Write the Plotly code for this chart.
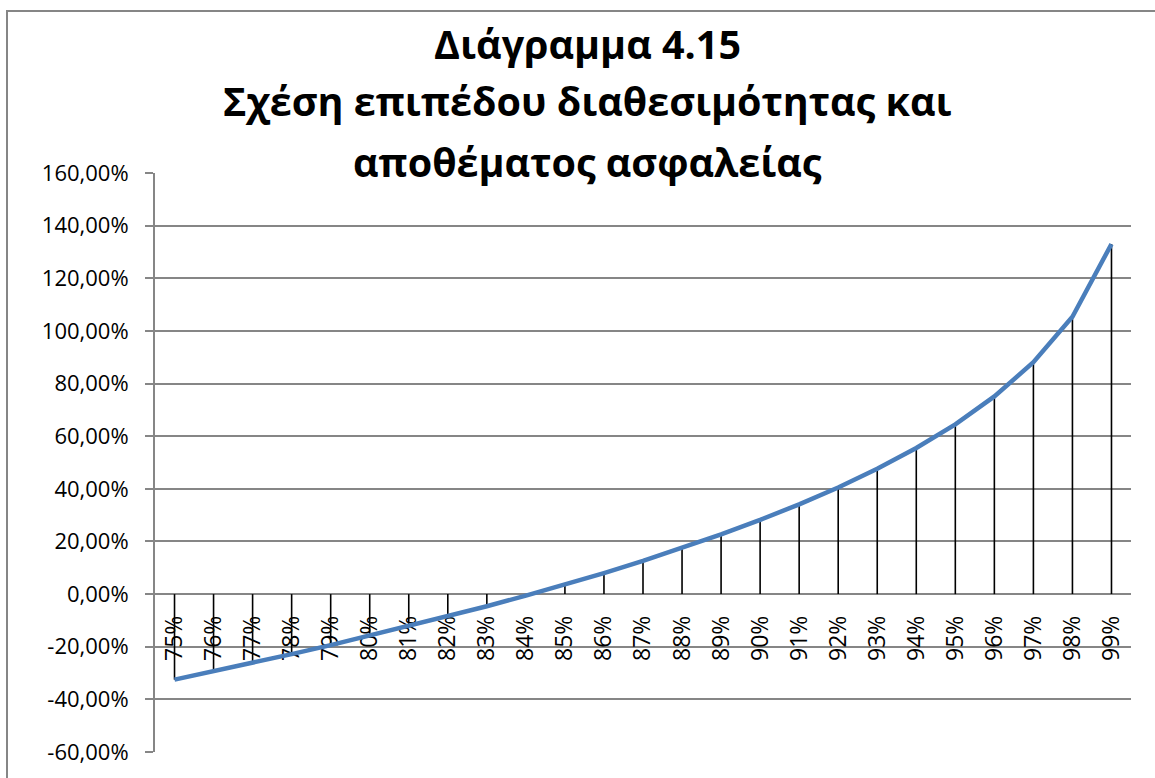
import plotly.graph_objects as go

# Service level (category axis)
service_levels = ["75%", "76%", "77%", "78%", "79%", "80%", "81%", "82%", "83%",
                  "84%", "85%", "86%", "87%", "88%", "89%", "90%", "91%", "92%",
                  "93%", "94%", "95%", "96%", "97%", "98%", "99%"]

# Change in safety stock, in percent
safety_stock_pct = [-32.5, -29.4, -26.1, -22.8, -19.4, -15.8, -12.2, -8.5, -4.6,
                    -0.6, 3.6, 8.0, 12.6, 17.5, 22.7, 28.2, 34.1, 40.5,
                    47.6, 55.5, 64.5, 75.1, 88.1, 105.4, 133.0]

# Value axis ticks
y_ticks = [-60, -40, -20, 0, 20, 40, 60, 80, 100, 120, 140, 160]
y_tick_labels = ["-60,00%", "-40,00%", "-20,00%", "0,00%", "20,00%", "40,00%",
                 "60,00%", "80,00%", "100,00%", "120,00%", "140,00%", "160,00%"]

title_lines = ["Διάγραμμα 4.15",
               "Σχέση επιπέδου διαθεσιμότητας και",
               "αποθέματος ασφαλείας"]

W, H = 1155, 778
ML, MR, MT, MB = 155, 24, 173, 22
plot_w = W - ML - MR
plot_h = H - MT - MB
y_min, y_max = -60, 160

GRID = "#868686"
FONT = "Open Sans"


def px_to_paper_x(px):
    return (px - ML) / plot_w


def px_to_paper_y(py):
    return (H - MB - py) / plot_h


# Drop lines from the category axis (y = 0) to each point
drop_x, drop_y = [], []
for cat, val in zip(service_levels, safety_stock_pct):
    drop_x += [cat, cat, None]
    drop_y += [0, val, None]

fig = go.Figure()
fig.add_trace(go.Scatter(
    x=drop_x, y=drop_y, mode="lines",
    line=dict(color="#000000", width=1.6),
    hoverinfo="skip", showlegend=False,
))
fig.add_trace(go.Scatter(
    x=service_levels, y=safety_stock_pct, mode="lines",
    line=dict(color="#4A7EBB", width=4.5),
    showlegend=False,
))

# Title, one annotation per line
title_centers = [43, 100, 162]
annotations = []
for text, cy in zip(title_lines, title_centers):
    annotations.append(dict(
        text=f"<b>{text}</b>", xref="paper", yref="paper",
        x=px_to_paper_x(587), y=px_to_paper_y(cy),
        xanchor="center", yanchor="middle", showarrow=False,
        font=dict(family=FONT, size=39.5, color="#000000"),
    ))

# Chart-area border
shapes = [dict(
    type="rect", xref="paper", yref="paper",
    x0=px_to_paper_x(7), x1=px_to_paper_x(1170),
    y0=px_to_paper_y(795), y1=px_to_paper_y(10),
    line=dict(color=GRID, width=2), fillcolor="rgba(0,0,0,0)", layer="below",
)]

fig.update_layout(
    width=W, height=H,
    margin=dict(l=ML, r=MR, t=MT, b=MB, pad=0),
    paper_bgcolor="white", plot_bgcolor="white",
    font=dict(family=FONT, color="#000000"),
    annotations=annotations, shapes=shapes,
    showlegend=False,
)

fig.update_xaxes(
    type="category", categoryorder="array", categoryarray=service_levels,
    range=[-0.5, len(service_levels) - 0.5],
    showgrid=False, showline=False, zeroline=False, ticks="",
    anchor="free", position=(0 - y_min) / (y_max - y_min),
    tickangle=-90, tickfont=dict(family=FONT, size=23, color="#000000"),
    ticklabelstandoff=16, layer="below traces",
)
fig.update_yaxes(
    range=[y_min, y_max], tickvals=y_ticks, ticktext=y_tick_labels,
    showgrid=True, gridcolor=GRID, gridwidth=2,
    zeroline=False,
    showline=True, linecolor=GRID, linewidth=2,
    ticks="outside", ticklen=8, tickcolor=GRID, tickwidth=2,
    tickfont=dict(family=FONT, size=22, color="#000000"),
    ticklabelstandoff=12, layer="below traces",
)

fig.write_html("out.html")
